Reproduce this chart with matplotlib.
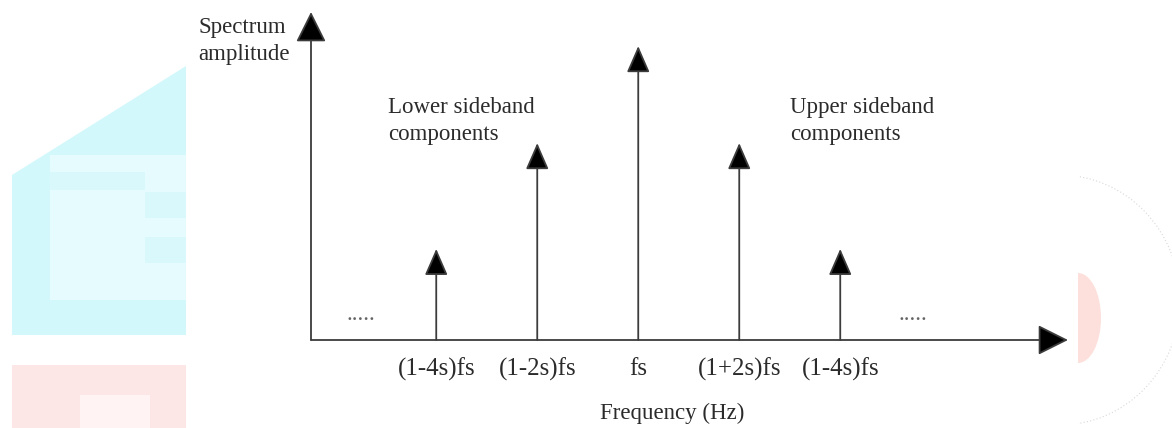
import matplotlib
matplotlib.use("Agg")
import matplotlib.pyplot as plt
from matplotlib.patches import Polygon, Rectangle, Ellipse

# spectrum lines: sideband order (multiples of s) and relative amplitude
orders = [-4, -2, 0, 2, 4]
amplitudes = [0.31, 0.67, 1.0, 0.67, 0.31]
tick_labels = ["(1-4s)fs", "(1-2s)fs", "fs", "(1+2s)fs", "(1-4s)fs"]

plt.rcParams["font.family"] = ["Liberation Serif", "DejaVu Serif"]
txt_color = "#2b2b2b"
line_color = "#3c3c3c"

fig = plt.figure(figsize=(11.72, 4.28), dpi=100)

# faint watermark behind the diagram (pixel coordinates)
bg = fig.add_axes([0, 0, 1, 1])
bg.set_xlim(0, 1172)
bg.set_ylim(428, 0)
bg.axis("off")
bg.add_patch(Polygon([(12, 175), (186, 66), (186, 335), (12, 335)],
                     closed=True, color="#d2f8fb", lw=0))
bg.add_patch(Rectangle((50, 155), 136, 145, color="#e6fbfd", lw=0))
bg.add_patch(Rectangle((50, 172), 95, 18, color="#d9f8fb", lw=0))
bg.add_patch(Rectangle((145, 192), 41, 26, color="#d9f8fb", lw=0))
bg.add_patch(Rectangle((145, 237), 41, 26, color="#d9f8fb", lw=0))
bg.add_patch(Rectangle((12, 365), 174, 63, color="#fde6e6", lw=0))
bg.add_patch(Rectangle((80, 395), 70, 33, color="#fff3f3", lw=0))
bg.add_patch(Ellipse((1078, 318), 46, 90, color="#fde0dc", lw=0))
bg.add_patch(Ellipse((1060, 300), 240, 250, fill=False, ec="#d8d8d8",
                     lw=0.8, ls=(0, (1, 2))))
bg.add_patch(Rectangle((186, 0), 892, 428, color="white", lw=0))

# main diagram axes
x0, x1, y0, y1 = 311, 1068, 340, 12
ax = fig.add_axes([x0 / 1172, 1 - y0 / 428, (x1 - x0) / 1172, (y0 - y1) / 428])
ax.patch.set_alpha(0)
ax.set_xlim(-6.48, 8.51)
ax.set_ylim(0, 1.116)
for s in ax.spines.values():
    s.set_visible(False)
ax.set_yticks([])
ax.set_xticks(orders, tick_labels, fontsize=18, color=txt_color)
ax.tick_params(axis="x", length=0, pad=13)

# axis arrows
axis_arrow = dict(arrowstyle="-|>,head_length=1.9,head_width=0.95",
                  mutation_scale=10, lw=1.3, color=line_color, fc="black",
                  shrinkA=0, shrinkB=0)
ax.annotate("", xy=(8.51, 0), xytext=(-6.48, 0), arrowprops=axis_arrow,
            annotation_clip=False)
ax.annotate("", xy=(-6.48, 1.116), xytext=(-6.48, 0), arrowprops=axis_arrow,
            annotation_clip=False)

# spectral lines
stem_arrow = dict(arrowstyle="-|>,head_length=1.65,head_width=0.72",
                  mutation_scale=10, lw=1.3, color=line_color, fc="black",
                  shrinkA=0, shrinkB=0)
for o, a in zip(orders, amplitudes):
    ax.annotate("", xy=(o, a), xytext=(o, 0), arrowprops=stem_arrow)

# labels
bg.text(198, 41, "Spectrum\namplitude", fontsize=16.5, color=txt_color,
        va="center", ha="left", linespacing=1.42)
bg.text(388, 121, "Lower sideband\ncomponents", fontsize=16.5,
        color=txt_color, va="center", ha="left", linespacing=1.4)
bg.text(790, 121, "Upper sideband\ncomponents", fontsize=16.5,
        color=txt_color, va="center", ha="left", linespacing=1.4)
bg.text(361, 314, ".....", fontsize=17, color="#666666", ha="center",
        va="center")
bg.text(913, 314, ".....", fontsize=17, color="#666666", ha="center",
        va="center")
bg.text(672, 413, "Frequency (Hz)", fontsize=16.5, color=txt_color,
        ha="center", va="center")

fig.savefig("out.png", dpi=100)
